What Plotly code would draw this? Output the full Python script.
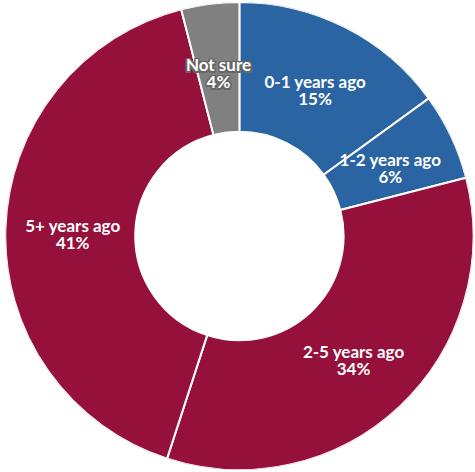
import plotly.graph_objects as go

# Share of respondents by when the event last happened
categories = ["0-1 years ago", "1-2 years ago", "2-5 years ago", "5+ years ago", "Not sure"]
shares = [15, 6, 34, 41, 4]
slice_colors = ["#2a64a2", "#2a64a2", "#96103c", "#96103c", "#808080"]
outlined = [False, False, False, False, True]

HOLE = 0.445
DOMAIN_X = [0.008, 1]
DOMAIN_Y = [0.004, 0.996]
LABEL_DOMAIN_Y = [0.0, 0.978]   # label layer sits a touch lower than the ring

# Slice geometry: each share becomes an angular span, clockwise from 12 o'clock
total = sum(shares)
spans = [s / total * 360 for s in shares]
mid_angles = []
running = 0
for sp in spans:
    mid_angles.append(running + sp / 2)
    running += sp

fig = go.Figure(
    go.Barpolar(
        r=[1 - HOLE] * len(shares),
        base=[HOLE] * len(shares),
        theta=mid_angles,
        width=spans,
        marker=dict(color=slice_colors, line=dict(color="white", width=2)),
        text=categories,
        customdata=shares,
        hovertemplate="%{text}: %{customdata}%<extra></extra>",
        showlegend=False,
        subplot="polar",
    )
)

# Two-line labels in the middle of the ring: name above, percentage below
ring_mid = (1 + HOLE) / 2
pct_texts = [f"{s}%" for s in shares]

outline = ("1.5px 0 0 #666, -1.5px 0 0 #666, 0 1.5px 0 #666, 0 -1.5px 0 #666, "
           "1.5px 1.5px 0 #666, -1.5px -1.5px 0 #666, 1.5px -1.5px 0 #666, -1.5px 1.5px 0 #666")
for flag, shadow in [(False, "none"), (True, outline)]:
    idx = [i for i, o in enumerate(outlined) if o == flag]
    for texts, pos in [(categories, "top center"), (pct_texts, "bottom center")]:
        fig.add_trace(
            go.Scatterpolar(
                r=[ring_mid] * len(idx),
                theta=[mid_angles[i] for i in idx],
                text=[texts[i] for i in idx],
                mode="text",
                textposition=pos,
                textfont=dict(family="Lato", size=17, color="white", weight="bold",
                              shadow=shadow),
                showlegend=False,
                hoverinfo="skip",
                subplot="polar2",
            )
        )

hidden_radial = dict(visible=False, range=[0, 1], showgrid=False)
hidden_angular = dict(visible=False, rotation=90, direction="clockwise", showgrid=False)

fig.update_layout(
    width=475,
    height=472,
    margin=dict(l=0, r=0, t=0, b=0),
    paper_bgcolor="white",
    plot_bgcolor="white",
    polar=dict(
        domain=dict(x=DOMAIN_X, y=DOMAIN_Y),
        bgcolor="rgba(0,0,0,0)",
        bargap=0,
        radialaxis=hidden_radial,
        angularaxis=hidden_angular,
    ),
    polar2=dict(
        domain=dict(x=DOMAIN_X, y=LABEL_DOMAIN_Y),
        bgcolor="rgba(0,0,0,0)",
        radialaxis=hidden_radial,
        angularaxis=hidden_angular,
    ),
)

fig.write_html("out.html")
